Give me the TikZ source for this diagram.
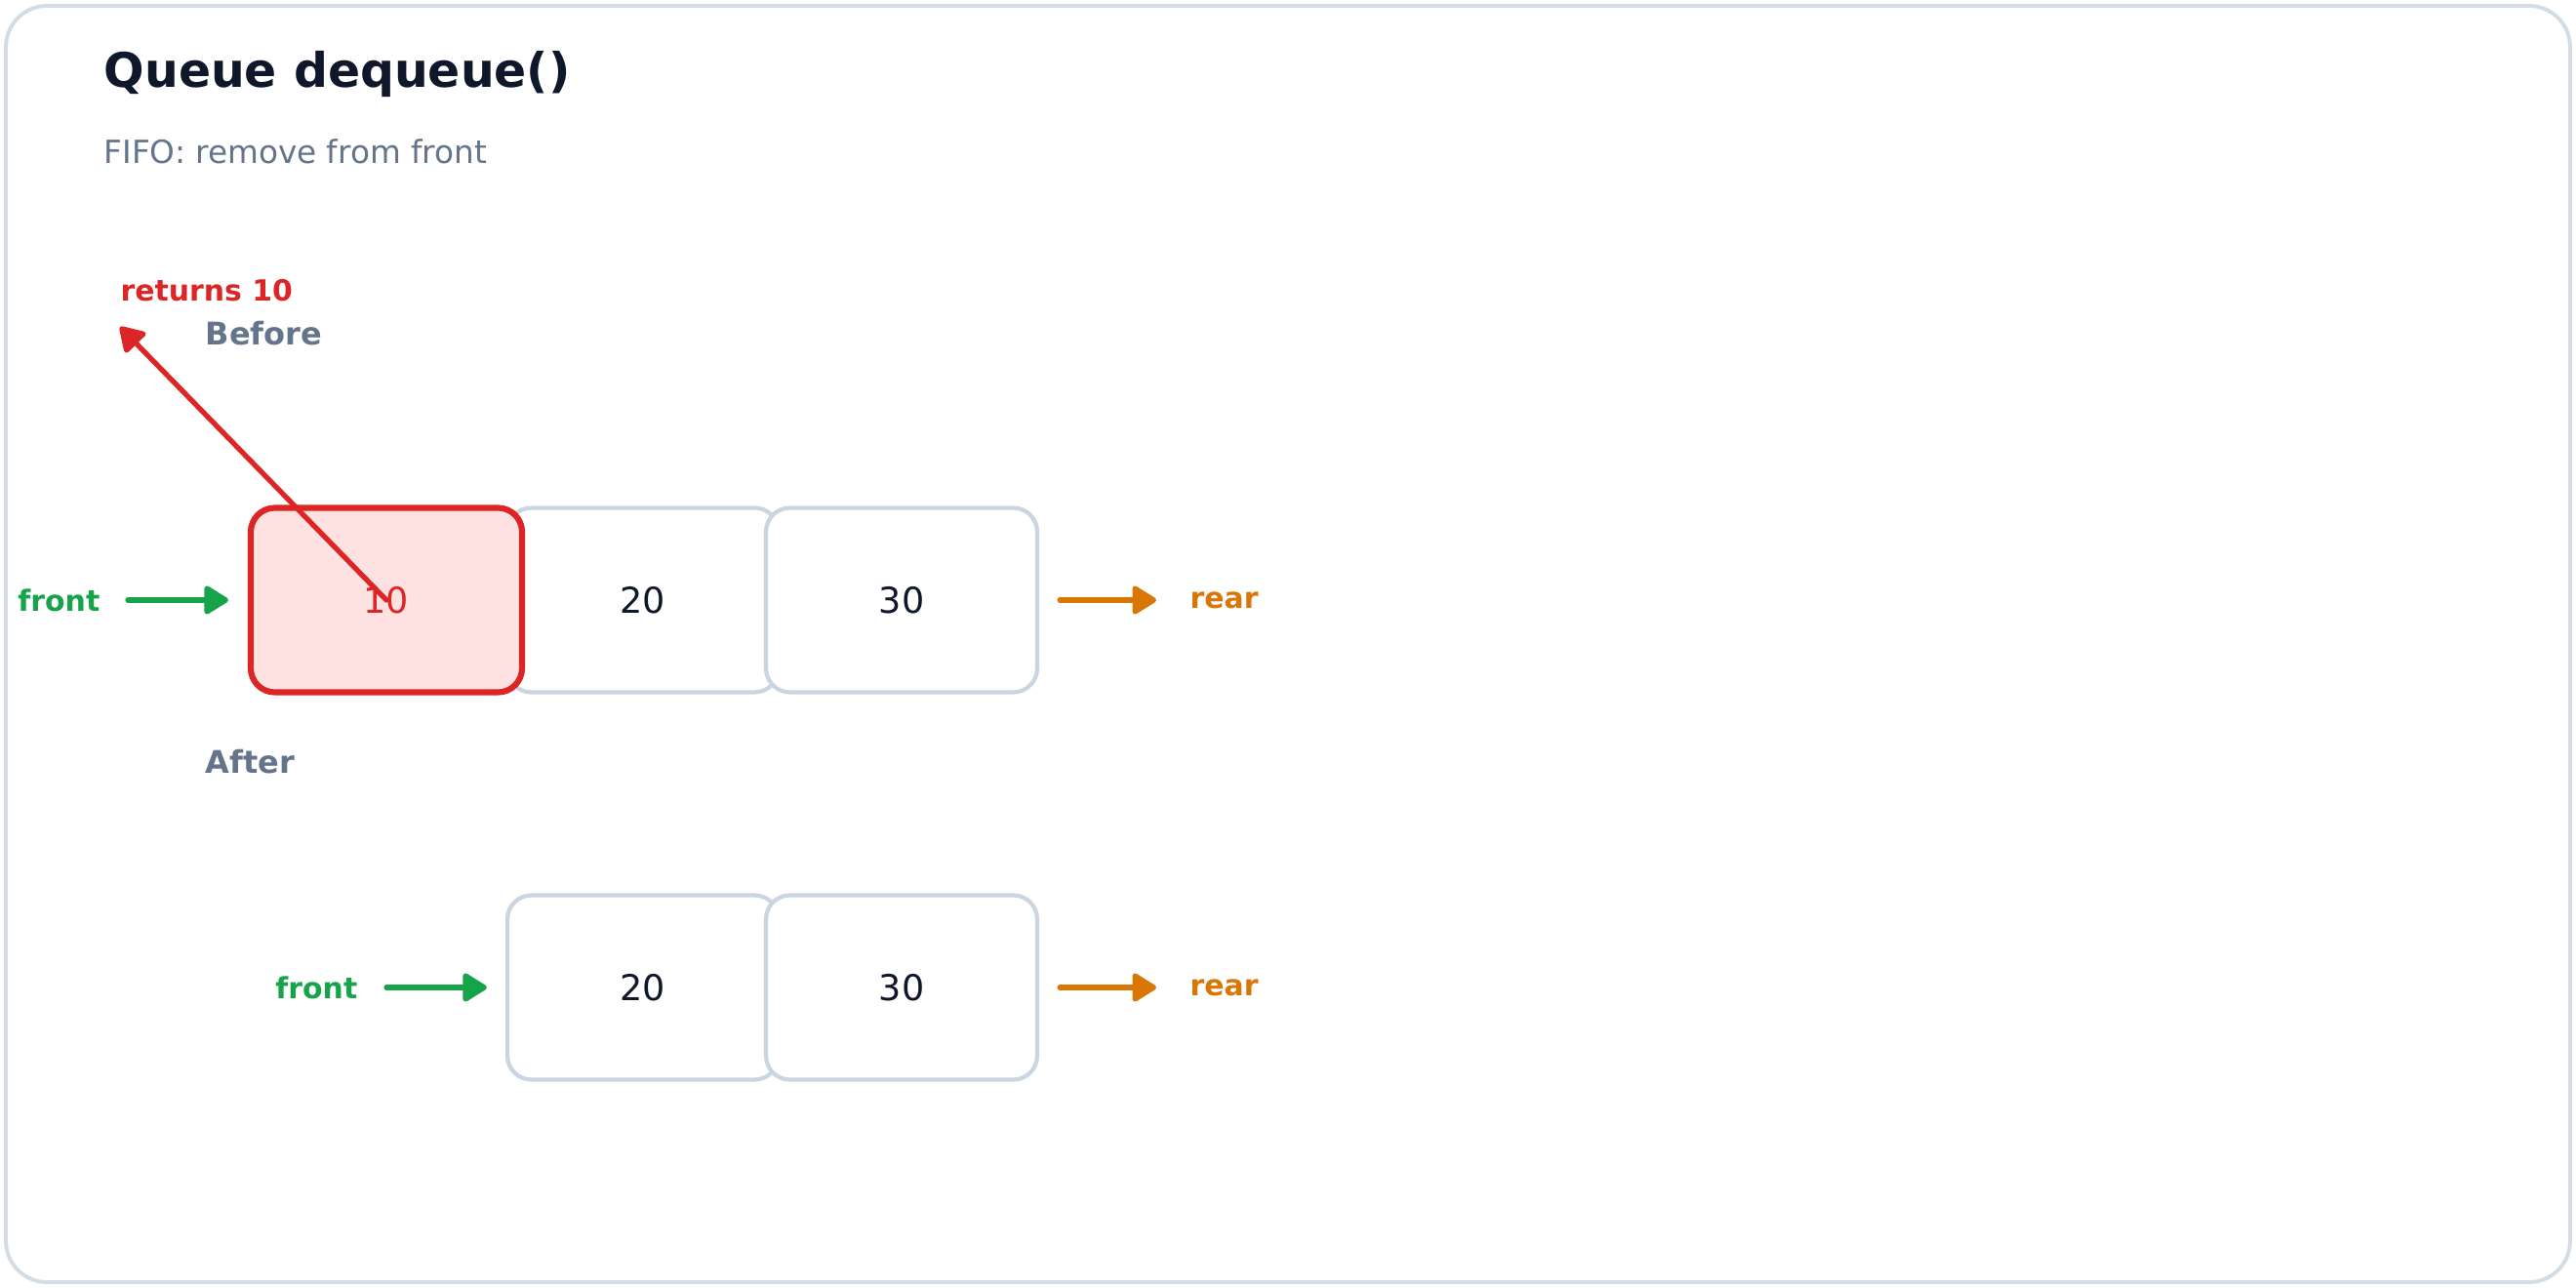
\documentclass[tikz,border=0pt]{standalone}
\usepackage{fontspec}
\setmainfont{DejaVu Sans}
\usepackage{xcolor}
\usetikzlibrary{positioning,arrows.meta}
\definecolor{ctitle}{HTML}{0F172A}
\definecolor{csub}{HTML}{64748B}
\definecolor{cline}{HTML}{CBD5E1}
\definecolor{cred}{HTML}{DC2626}
\definecolor{credbg}{HTML}{FEE2E2}
\definecolor{cfront}{HTML}{16A34A}
\definecolor{crear}{HTML}{D97706}

\begin{document}
\begin{tikzpicture}[
  cell/.style={draw=cline, line width=1.2pt, fill=white, rounded corners=7pt, minimum width=2.78cm, minimum height=1.89cm, inner sep=0pt, text=ctitle, font=\fontsize{10.4}{12}\selectfont},
  popped/.style={cell, draw=cred, line width=1.75pt, fill=credbg, text=cred},
  lbl/.style={font=\fontsize{8.5}{10}\selectfont\bfseries, inner sep=0pt},
  rowlbl/.style={font=\fontsize{9.1}{11}\selectfont\bfseries, text=csub, inner sep=0pt, anchor=west},
  ptr/.style={-{Triangle[round, length=0.27cm, width=0.32cm]}, line width=1.5pt, line cap=round},
]
  \useasboundingbox (0,0) rectangle (26.4,-13.2);
  \draw[cline!85, line width=1.1pt, rounded corners=12pt] (0.06,-0.06) rectangle (26.34,-13.14);
  % --- tieu de ---
  \node[font=\fontsize{13.9}{16}\selectfont\bfseries, text=ctitle, anchor=west, inner sep=0pt] (title) at (1.06,-0.76) {Queue dequeue()};
  \node[font=\fontsize{9.3}{11}\selectfont, text=csub, anchor=west, inner sep=0pt] (sub) at (1.06,-1.55) {FIFO: remove from front};
  % --- truoc ---
  \node[rowlbl] (before) at (2.10,-3.42) {Before};
  \node[cell] (q2) at (6.59,-6.15) {20};
  \node[cell] (q3) at (9.24,-6.15) {30};
  \node[popped] (q1) at (3.96,-6.15) {10};
  \node[lbl, text=cfront, anchor=east] (fr1) at (1.03,-6.15) {front};
  \node[lbl, text=crear, anchor=west] (re1) at (12.19,-6.15) {rear};
  \draw[ptr, cfront, shorten <=0.28cm, shorten >=0.20cm] (fr1.east) -- (q1.west);
  \draw[ptr, crear, shorten <=0.21cm, shorten >=0.34cm] (q3.east) -- (re1.west);
  % --- gia tri tra ve ---
  \node[lbl, text=cred, anchor=west] (ret) at (1.23,-2.98) {returns 10};
  \coordinate (retpt) at (1.23,-3.35);
  \draw[ptr, cred] (q1.center) -- (retpt);
  % --- sau ---
  \node[rowlbl] (after) at (2.10,-7.81) {After};
  \node[cell] (p2) at (6.59,-10.12) {20};
  \node[cell] (p3) at (9.24,-10.12) {30};
  \node[lbl, text=cfront, anchor=east] (fr2) at (3.67,-10.12) {front};
  \node[lbl, text=crear, anchor=west] (re2) at (12.19,-10.12) {rear};
  \draw[ptr, cfront, shorten <=0.29cm, shorten >=0.19cm] (fr2.east) -- (p2.west);
  \draw[ptr, crear, shorten <=0.21cm, shorten >=0.34cm] (p3.east) -- (re2.west);
\end{tikzpicture}
\end{document}
